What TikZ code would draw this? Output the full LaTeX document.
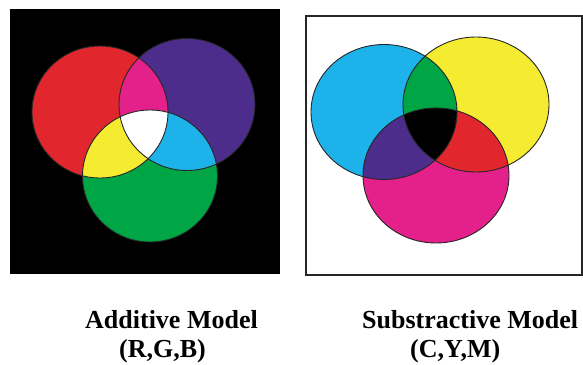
\documentclass[tikz,border=0pt]{standalone}
\usepackage{fontspec}
\setmainfont{Liberation Serif}

% primary and secondary colours
\definecolor{cRed}{RGB}{226,38,45}
\definecolor{cBlue}{RGB}{77,45,140}
\definecolor{cGreen}{RGB}{0,166,70}
\definecolor{cYellow}{RGB}{245,236,50}
\definecolor{cCyan}{RGB}{30,178,235}
\definecolor{cMagenta}{RGB}{228,32,138}

% circles of the additive model
\newcommand\addRed{(100,112) ellipse [x radius=68pt, y radius=66pt]}
\newcommand\addBlue{(187,104.5) ellipse [x radius=68pt, y radius=66pt]}
\newcommand\addGreen{(150,176) ellipse [x radius=67.5pt, y radius=66pt]}

% circles of the subtractive model
\newcommand\subCyan{(384,112) ellipse [x radius=73pt, y radius=67.5pt]}
\newcommand\subYellow{(476,104.5) ellipse [x radius=73pt, y radius=67.5pt]}
\newcommand\subMagenta{(436,175.5) ellipse [x radius=73pt, y radius=67.5pt]}

\begin{document}
\begin{tikzpicture}[x=1pt,y=-1pt,
  outline/.style={draw=black!85, line width=0.9pt},
  frame/.style={draw=black!85, line width=2pt},
  caption/.style={inner sep=0pt, anchor=base west,
    font=\fontsize{26}{31}\selectfont\bfseries}]
\useasboundingbox (0,0) rectangle (583,364);

% --- additive model on black ---
\fill[black] (10,9) rectangle (280,274);
\fill[cRed] \addRed;
\fill[cBlue] \addBlue;
\fill[cGreen] \addGreen;
\begin{scope}\clip \addRed; \fill[cMagenta] \addBlue; \end{scope}
\begin{scope}\clip \addRed; \fill[cYellow] \addGreen; \end{scope}
\begin{scope}\clip \addBlue; \fill[cCyan] \addGreen; \end{scope}
\begin{scope}\clip \addRed; \clip \addBlue; \fill[white] \addGreen; \end{scope}
\draw[outline] \addRed;
\draw[outline] \addBlue;
\draw[outline] \addGreen;

% --- subtractive model on white ---
\draw[frame] (306,16) rectangle (581.5,275);
\fill[cCyan] \subCyan;
\fill[cYellow] \subYellow;
\fill[cMagenta] \subMagenta;
\begin{scope}\clip \subCyan; \fill[cGreen] \subYellow; \end{scope}
\begin{scope}\clip \subCyan; \fill[cBlue] \subMagenta; \end{scope}
\begin{scope}\clip \subYellow; \fill[cRed] \subMagenta; \end{scope}
\begin{scope}\clip \subCyan; \clip \subYellow; \fill[black] \subMagenta; \end{scope}
\draw[outline] \subCyan;
\draw[outline] \subYellow;
\draw[outline] \subMagenta;

% --- captions ---
\node[caption] (addTitle) at (85,328) {Additive Model};
\node[caption] (addSub) at (119,357.5) {(R,G,B)};
\node[caption] (subTitle) at (362,328) {Substractive Model};
\node[caption] (subSub) at (410,357.5) {(C,Y,M)};
\end{tikzpicture}
\end{document}
